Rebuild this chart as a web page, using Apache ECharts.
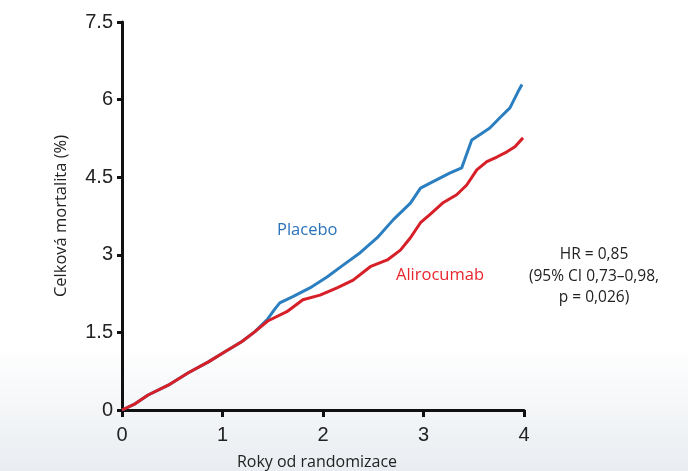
<!DOCTYPE html>
<html>
<head>
<meta charset="utf-8">
<script src="https://cdn.jsdelivr.net/npm/echarts@6/dist/echarts.min.js"></script>
<style>html,body{margin:0;padding:0;background:#fff}#c{width:688px;height:471px}</style>
</head>
<body>
<div id="c"></div>
<script>
var yTicks = ['0','1.5','3','4.5','6','7.5'];
var xTicks = ['0','1','2','3','4'];
var placeboYears = [0,0.13,0.26,0.46,0.66,0.86,1.02,1.19,1.32,1.45,1.52,1.57,1.70,1.87,2.04,2.20,2.37,2.54,2.70,2.87,2.97,3.09,3.26,3.38,3.41,3.48,3.56,3.66,3.76,3.86,3.94,3.98];
var placeboVals  = [0,0.12,0.29,0.48,0.72,0.93,1.12,1.32,1.51,1.76,1.95,2.07,2.19,2.36,2.57,2.80,3.04,3.33,3.68,4.00,4.29,4.41,4.58,4.68,4.84,5.22,5.32,5.45,5.65,5.84,6.15,6.29];
var aliroYears = [0,0.13,0.26,0.46,0.66,0.86,1.02,1.19,1.32,1.45,1.64,1.80,1.97,2.14,2.30,2.47,2.64,2.77,2.87,2.97,3.06,3.19,3.33,3.43,3.53,3.63,3.73,3.83,3.91,3.99];
var aliroVals  = [0,0.12,0.29,0.48,0.72,0.93,1.12,1.32,1.51,1.72,1.90,2.13,2.22,2.36,2.51,2.77,2.90,3.09,3.33,3.62,3.77,4.00,4.16,4.35,4.64,4.80,4.89,4.99,5.09,5.26];
var labels = {placebo:'Placebo', aliro:'Alirocumab'};
var hrLines = ['HR = 0,85','(95% CI 0,73–0,98,','p = 0,026)'];

function zip(a,b){return a.map(function(v,i){return [v,b[i]];});}
var chart = echarts.init(document.getElementById('c'));
var tickFont = '"Liberation Sans Narrow","Arial Narrow","Liberation Sans",sans-serif';
chart.setOption({
  animation:false,
  backgroundColor:'#fff',
  graphic:[
    {type:'rect',z:-10,shape:{x:0,y:345,width:688,height:126},style:{fill:new echarts.graphic.LinearGradient(0,0,0,1,[{offset:0,color:'#ffffff'},{offset:1,color:'#e9edf1'}])},silent:true},
    {type:'text',left:277,top:222,style:{text:labels.placebo,fill:'#2a73bb',font:'16.5px "Open Sans","Noto Sans",sans-serif'}},
    {type:'text',left:396,top:267,style:{text:labels.aliro,fill:'#e8262d',font:'16.5px "Open Sans","Noto Sans",sans-serif'}},
    {type:'text',x:594,y:244,style:{text:hrLines.join('\n'),fill:'#222',align:'center',lineHeight:21.5,font:'15.5px "Open Sans","Noto Sans",sans-serif'}}
  ],
  grid:{left:122,right:164,top:22,bottom:61,containLabel:false,outerBoundsMode:'none'},
  xAxis:{type:'value',min:0,max:4,interval:1,
    name:'Roky od randomizace',nameLocation:'middle',nameGap:44,
    nameTextStyle:{fontSize:16,color:'#222',fontFamily:'"Open Sans","Noto Sans",sans-serif',padding:[0,12,0,0]},
    axisLine:{lineStyle:{color:'#111',width:3}},
    axisTick:{length:7,lineStyle:{color:'#111',width:3}},
    axisLabel:{margin:15,fontSize:20,color:'#222',fontFamily:tickFont,formatter:function(v){return xTicks[Math.round(v)];}},
    splitLine:{show:false}},
  yAxis:{type:'value',min:0,max:7.5,interval:1.5,
    name:'Celková mortalita (%)',nameLocation:'middle',nameGap:52,nameRotate:90,
    nameTextStyle:{fontSize:16.5,color:'#222',fontFamily:'"Open Sans","Noto Sans",sans-serif'},
    axisLine:{show:true,lineStyle:{color:'#111',width:3}},
    axisTick:{show:true,length:5,lineStyle:{color:'#111',width:3}},
    axisLabel:{margin:9,fontSize:20,color:'#222',fontFamily:tickFont,formatter:function(v){return yTicks[Math.round(v/1.5)];}},
    splitLine:{show:false}},
  series:[
    {type:'line',data:zip(placeboYears,placeboVals),showSymbol:false,lineStyle:{color:'#2b7fc0',width:3},z:2},
    {type:'line',data:zip(aliroYears,aliroVals),showSymbol:false,lineStyle:{color:'#d71f28',width:3},z:3}
  ]
});
</script>
</body>
</html>
